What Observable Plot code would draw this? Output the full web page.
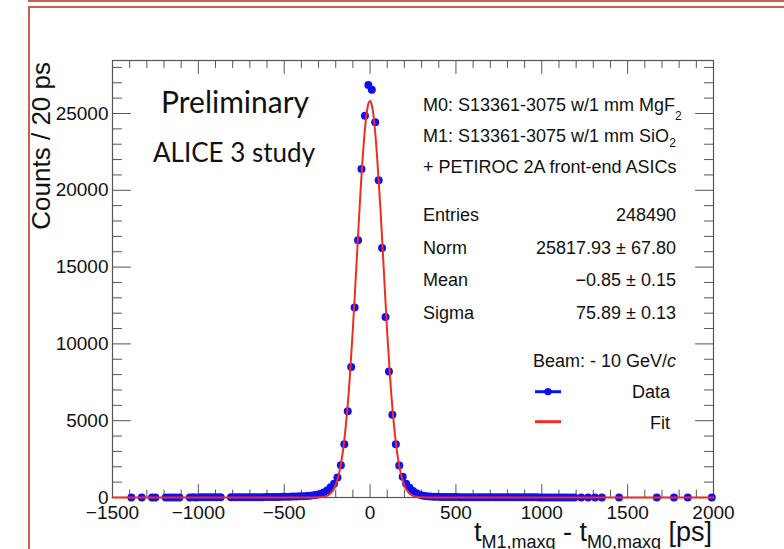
<!DOCTYPE html>
<html><head><meta charset="utf-8">
<script src="https://cdn.jsdelivr.net/npm/d3@7"></script>
<script src="https://cdn.jsdelivr.net/npm/@observablehq/plot@0.6"></script>
<style>
html,body{margin:0;padding:0;background:#fff;width:784px;height:549px;overflow:hidden}
#wrap{position:relative;width:784px;height:549px}
.red{position:absolute;background:#cf5e52}
</style></head><body>
<div id="wrap"></div>
<script>
// ---- data (bin centres in ps, counts per 20 ps) ----
const binCenters = [
 -1390,-1330,-1270,-1250,-1190,-1170,-1150,-1130,-1110,
 -1050,-1030,-1010,-990,-970,-950,-930,-910,-890,-870,
 -810,-790,-770,-750,-730,-710,-690,-670,-650,-630,-610,-590,-570,-550,-530,-510,
 -490,-470,-450,-430,-410,-390,-370,-350,-330,-310,-290,-270,-250,-230,-210,
 -190,-170,-150,-130,-110,-90,-70,-50,-30,-10,
 10,30,50,70,90,110,130,150,170,190,210,230,250,270,290,310,330,350,370,390,
 410,430,450,470,490,510,530,550,570,590,610,630,650,670,690,710,730,750,770,790,
 810,830,850,870,890,910,930,950,970,990,1010,1030,1050,1070,1090,1110,1130,1150,1170,1190,
 1230,1270,1310,1350,1450,1670,1770,1850,1990];
const counts = [
 6,5,6,5,7,6,8,7,6,
 8,9,8,9,10,9,11,10,12,11,
 13,14,13,15,16,17,18,19,21,23,25,27,30,33,37,41,
 46,52,58,66,75,86,100,118,142,175,230,330,460,670,890,
 1300,2100,3460,5610,8490,12370,16750,21380,24860,26860,
 26550,24430,20660,16250,11750,8210,5390,3460,2090,1350,890,640,430,280,175,110,80,62,52,45,
 40,36,33,30,28,26,24,22,21,20,19,18,17,16,15,15,14,13,13,12,
 12,11,11,10,10,10,9,9,9,8,8,8,7,7,7,7,6,6,6,5,
 5,4,4,4,3,3,2,2,2];
// fitted Gaussian curve
const fitX = [-1500,-400,-340,-300,-280,-260,-240,-220,-200,-180,-160,-140,-120,-100,-80,-60,-40,-20,-10,0,
 10,20,40,60,80,100,120,140,160,180,200,220,240,260,280,300,340,400,2000];
const fitY = [0,0,1,10,28,76,180,399,826,1592,2864,4807,7528,10995,14987,19056,22601,25009,25631,25816,
 25555,24862,22335,18870,14791,10676,7265,4614,2732,1509,778,374,168,70,27,10,1,0,0];

const xMajorTicks = [-1500,-1000,-500,0,500,1000,1500,2000];
const xMinorTicks = [-1400,-1300,-1200,-1100,-900,-800,-700,-600,-400,-300,-200,-100,100,200,300,400,600,700,800,900,1100,1200,1300,1400,1600,1700,1800,1900];
const yMajorTicks = [0,5000,10000,15000,20000,25000];
const yMinorTicks = [1000,2000,3000,4000,6000,7000,8000,9000,11000,12000,13000,14000,16000,17000,18000,19000,21000,22000,23000,24000,26000,27000,28000];

const statLabels = ["Entries","Norm","Mean","Sigma"];
const statValues = ["248490","25817.93 \u00b1 67.80","\u22120.85 \u00b1 0.15","75.89 \u00b1 0.13"];
const legendLabels = ["Data","Fit"];

// ---- build ----
const data = binCenters.map((x,i)=>({x, y: counts[i]}));
const fit = fitX.map((x,i)=>({x, y: fitY[i]}));
const fmt = d => String(d).replace("-", "\u2212");
const FONT = '"Liberation Sans", Arial, Helvetica, sans-serif';
const AX = "#555";
const BLUE = "#1010ee";
const RED = "#ee2d24";

const tickShape = {draw(ctx, l){ ctx.moveTo(0,0); ctx.lineTo(0,-l); }};
const tickV = (vals, anchor, len, rot, chan) => Plot.vector(vals, {
  [chan]: d=>d, frameAnchor: anchor, length: len, rotate: rot, anchor: "start",
  shape: tickShape, stroke: AX, strokeWidth: 1
});

const plot = Plot.plot({
  width:784, height:549,
  marginLeft:112, marginRight:71, marginTop:60, marginBottom:52,
  style:{fontFamily: FONT, background:"transparent", color:"#111", overflow:"visible"},
  x:{domain:[-1500,2000]},
  y:{domain:[0,28450]},
  marks:[
    tickV(xMajorTicks, "bottom", 13, 0, "x"),
    tickV(xMinorTicks, "bottom", 7.5, 0, "x"),
    tickV(xMajorTicks, "top", 13, 180, "x"),
    tickV(xMinorTicks, "top", 7, 180, "x"),
    tickV(yMajorTicks, "left", 18, 90, "y"),
    tickV(yMinorTicks, "left", 9, 90, "y"),
    tickV(yMajorTicks, "right", 18, -90, "y"),
    tickV(yMinorTicks, "right", 9, -90, "y"),
    Plot.axisX(xMajorTicks, {anchor:"bottom", tickSize:0, tickPadding:8, tickFormat: fmt, fontSize:19, label:null, fill:"#111"}),
    Plot.axisY(yMajorTicks, {anchor:"left", tickSize:0, tickPadding:4, tickFormat: fmt, fontSize:19, label:null, fill:"#111"}),
    Plot.frame({stroke: AX, strokeWidth: 1.2}),
    Plot.dot(data, {x:"x", y:"y", r:4, fill: BLUE, stroke: null}),
    Plot.line(fit, {x:"x", y:"y", stroke: RED, strokeWidth: 2, curve: "monotone-x"})
  ]
});

document.getElementById("wrap").appendChild(plot);

// ---- annotations ----
const svg = d3.select(plot);
const g = svg.append("g").attr("font-family", FONT).attr("fill", "#111").attr("text-anchor", "start");
function txt(x, y, s, size, anchor = "start", family = FONT) {
  return g.append("text").attr("x", x).attr("y", y).attr("font-size", size)
    .attr("text-anchor", anchor).attr("font-family", family).text(s);
}

// axis titles
g.append("text").attr("transform", "translate(50,62) rotate(-90)")
  .attr("text-anchor", "end").attr("font-size", 26).text("Counts / 20 ps");

const xt = g.append("text").attr("x", 712).attr("y", 541).attr("text-anchor", "end").attr("font-size", 27);
xt.append("tspan").text("t");
xt.append("tspan").attr("font-size", 18).attr("dy", 7).text("M1,maxq");
xt.append("tspan").attr("dy", -7).text(" - t");
xt.append("tspan").attr("font-size", 18).attr("dy", 7).text("M0,maxq");
xt.append("tspan").attr("dy", -7).text(" [ps]");

// Preliminary labels
txt(161, 113, "Preliminary", 30, "start", "Lato, 'Open Sans', sans-serif");
txt(153, 162, "ALICE 3 study", 26, "start", "Lato, 'Open Sans', sans-serif");

// setup text
const t1 = g.append("text").attr("x", 423).attr("y", 110.7).attr("font-size", 18).attr("text-anchor", "start");
t1.append("tspan").text("M0: S13361-3075 w/1 mm MgF");
t1.append("tspan").attr("font-size", 12).attr("dy", 9).text("2");
const t2 = g.append("text").attr("x", 423).attr("y", 141.7).attr("font-size", 18).attr("text-anchor", "start");
t2.append("tspan").text("M1: S13361-3075 w/1 mm SiO");
t2.append("tspan").attr("font-size", 12).attr("dy", 5.5).text("2");
txt(423, 172.7, "+ PETIROC 2A front-end ASICs", 18);

// stats box
const statY = [221, 253.5, 286, 318.5];
statLabels.forEach((s, i) => {
  txt(423, statY[i], s, 18);
  txt(676, statY[i], statValues[i], 18, "end");
});

// beam
const bt = g.append("text").attr("x", 676).attr("y", 366.7).attr("font-size", 18).attr("text-anchor", "end");
bt.append("tspan").text("Beam: - 10 GeV/");
bt.append("tspan").attr("font-style", "italic").text("c");

// legend
const legY = [391.7, 421.7];
const legBase = [398, 429];
const legColors = [BLUE, RED];
legendLabels.forEach((s, i) => {
  g.append("line").attr("x1", 535).attr("x2", 561).attr("y1", legY[i]).attr("y2", legY[i])
    .attr("stroke", legColors[i]).attr("stroke-width", 3);
  if (i === 0) g.append("circle").attr("cx", 548).attr("cy", legY[i]).attr("r", 3.6).attr("fill", BLUE);
  txt(670, legBase[i], s, 18, "end");
});

// slide frame decoration
const wrap = document.getElementById("wrap");
[["0px","28px","756px","1.5px"],["6px","28px","756px","2px"],["6px","28px","2px","543px"]].forEach(([t,l,w,h])=>{
  const d = document.createElement("div"); d.className = "red";
  d.style.top = t; d.style.left = l; d.style.width = w; d.style.height = h;
  wrap.appendChild(d);
});
</script>
</body></html>
